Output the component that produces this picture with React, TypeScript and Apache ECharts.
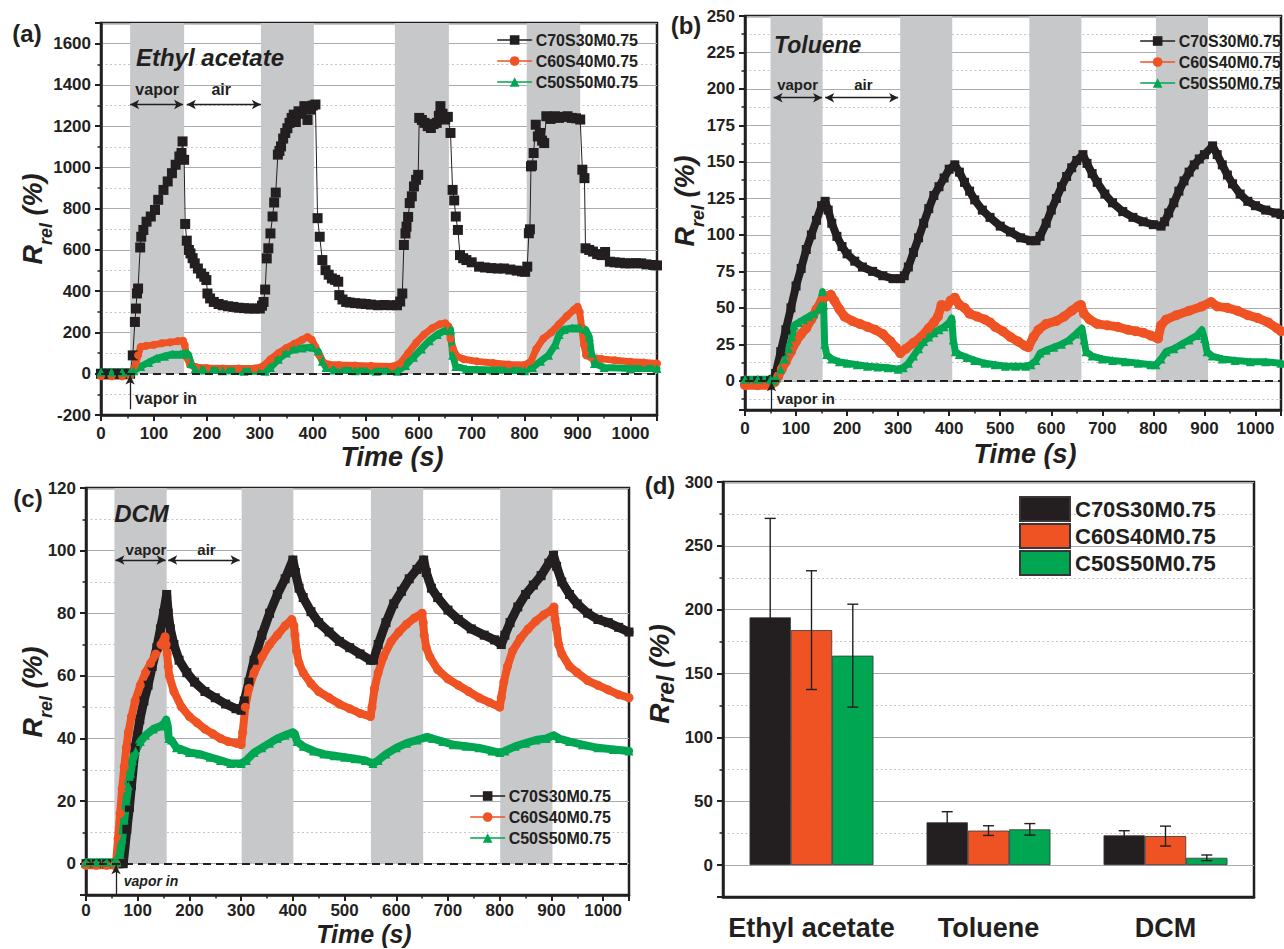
import React, { useEffect, useRef } from 'react';
import * as echarts from 'echarts';

const FONT = "'Liberation Sans', Arial, Helvetica, sans-serif";
const BLACK = '#231f20';
const RED = '#f05323';
const GREEN = '#00a651';
const BAND = '#c7c8ca';
const GRID_MAJOR = '#a9abae';
const GRID_MINOR = '#c4c5c7';

const sampleNames = ['C70S30M0.75', 'C60S40M0.75', 'C50S50M0.75'];

// ---------- (a) Ethyl acetate : [time (s), Rrel (%)] ----------
const ethylBlack: [number, number][] = [
  [0, 0], [8, 0], [16, 0], [24, 0], [32, 0], [40, 0], [48, 0], [55, 0],
  [60, 89], [64, 251], [66, 316], [68, 389], [70, 413], [74, 612], [76, 664], [80, 697], [86, 737], [94, 762], [102, 794], [108, 843], [118, 891], [126, 932], [134, 972], [141, 1013], [148, 1053], [152, 1070], [154, 1126], [157, 1037],
  [159, 726], [162, 645], [166, 600], [169, 583], [173, 560], [177, 535], [183, 510], [189, 486], [195, 470], [199, 454], [201, 389], [206, 365], [213, 348], [222, 338], [230, 332], [240, 327], [250, 324], [260, 320], [270, 318], [280, 316], [290, 316], [300, 316],
  [304, 330], [307, 348], [310, 408], [313, 559], [316, 608], [320, 680], [324, 762], [327, 830], [330, 878], [334, 1062], [337, 1080], [340, 1102], [344, 1140], [348, 1167], [352, 1190], [356, 1216], [360, 1240], [364, 1256], [368, 1220], [373, 1272], [378, 1260], [384, 1297], [390, 1230], [396, 1280], [400, 1300], [405, 1305],
  [409, 754], [413, 664], [418, 551], [424, 502], [430, 480], [436, 462], [442, 455], [448, 446], [450, 381], [456, 360], [463, 348], [470, 345], [480, 342], [491, 340], [500, 338], [510, 335], [523, 332], [535, 333], [547, 332], [559, 332], [565, 350],
  [569, 389], [572, 624], [575, 680], [577, 713], [580, 760], [583, 827], [587, 860], [591, 908], [595, 940], [599, 964], [601, 1240], [606, 1230], [611, 1216], [617, 1200], [623, 1191], [628, 1210], [634, 1216], [638, 1250], [641, 1297], [645, 1260], [650, 1232], [655, 1245], [660, 1167],
  [664, 891], [667, 840], [670, 762], [674, 697], [678, 575], [684, 560], [690, 551], [700, 540], [714, 519], [725, 515], [737, 512], [749, 510], [761, 510], [773, 505], [785, 500], [795, 496], [801, 494], [805, 519],
  [808, 681], [810, 700], [812, 1005], [814, 1010], [817, 1070], [821, 1207], [825, 1150], [829, 1167], [833, 1130], [837, 1118], [841, 1248], [849, 1235], [857, 1248], [865, 1240], [873, 1245], [881, 1248], [889, 1240], [897, 1238], [905, 1232],
  [909, 989], [913, 948], [915, 608], [922, 600], [929, 592], [937, 580], [945, 575], [952, 590], [961, 543], [970, 540], [980, 538], [990, 535], [1000, 535], [1010, 536], [1020, 535], [1030, 530], [1043, 527], [1050, 525],
];
const ethylRed: [number, number][] = [
  [0, -12], [20, -12], [40, -12], [55, -10], [60, 10], [65, 40], [70, 90], [75, 130], [85, 135], [100, 140], [115, 148], [130, 152], [145, 158], [155, 160], [158, 140], [162, 80], [168, 45], [180, 32], [200, 28], [230, 25], [260, 25], [290, 25],
  [305, 35], [320, 70], [335, 100], [350, 125], [365, 145], [380, 165], [390, 178], [398, 165], [405, 130], [412, 90], [420, 55], [430, 45], [450, 42], [480, 40], [510, 38], [550, 35],
  [565, 50], [580, 100], [595, 150], [610, 190], [625, 220], [640, 240], [650, 245], [656, 230], [660, 170], [665, 120], [672, 85], [685, 70], [710, 60], [740, 52], [770, 45], [800, 42],
  [812, 60], [822, 120], [835, 170], [850, 200], [865, 240], [880, 280], [893, 310], [900, 325], [904, 300], [908, 220], [912, 140], [916, 90], [925, 80], [945, 72], [970, 65], [1000, 58], [1025, 54], [1050, 50],
];
const ethylGreen: [number, number][] = [
  [0, 8], [20, 8], [40, 8], [55, 8], [62, 15], [75, 35], [90, 55], [105, 75], [120, 85], [135, 95], [150, 95], [160, 100], [165, 95], [170, 50], [178, 25], [195, 18], [230, 15], [270, 12], [310, 12],
  [320, 30], [335, 70], [350, 100], [365, 120], [380, 125], [400, 128], [410, 110], [418, 60], [425, 30], [440, 18], [480, 15], [520, 12], [560, 12],
  [575, 40], [590, 80], [605, 120], [620, 160], [635, 190], [650, 210], [660, 215], [664, 90], [670, 35], [690, 22], [740, 18], [800, 15],
  [815, 30], [830, 60], [845, 90], [858, 140], [865, 190], [875, 215], [890, 222], [905, 222], [915, 215], [922, 180], [926, 100], [932, 50], [950, 30], [1000, 25], [1050, 25],
];

// ---------- (b) Toluene ----------
const tolueneBlack: [number, number][] = [
  [0, 0], [25, 0], [50, 0], [55, 1], [60, 5], [70, 20], [80, 35], [90, 50], [100, 65], [110, 77], [120, 90], [130, 100], [140, 110], [150, 120], [157, 123],
  [163, 117], [170, 108], [180, 99], [190, 92], [200, 87], [215, 82], [230, 78], [250, 75], [270, 72], [290, 70], [305, 70],
  [312, 72], [320, 78], [330, 88], [340, 98], [350, 108], [360, 118], [370, 127], [380, 133], [390, 139], [400, 145], [411, 148],
  [420, 143], [430, 136], [440, 130], [450, 124], [465, 117], [480, 112], [500, 106], [520, 102], [540, 98], [560, 96], [570, 96],
  [578, 99], [590, 108], [600, 117], [610, 125], [620, 133], [630, 140], [640, 146], [650, 151], [662, 155],
  [670, 149], [680, 142], [690, 136], [705, 128], [720, 122], [740, 116], [760, 112], [780, 109], [800, 107], [815, 106],
  [822, 109], [830, 115], [840, 122], [850, 130], [860, 137], [870, 143], [880, 148], [890, 152], [900, 155], [916, 161],
  [925, 155], [935, 148], [945, 141], [955, 135], [970, 128], [985, 123], [1000, 120], [1020, 117], [1040, 115], [1050, 114],
];
const tolueneRed: [number, number][] = [
  [0, -3], [25, -3], [50, -3], [58, -1], [65, 3], [72, 8], [80, 13], [90, 20], [100, 27], [110, 32], [120, 36], [130, 42], [140, 49], [150, 55], [160, 58], [168, 59],
  [175, 55], [185, 49], [195, 44], [210, 41], [225, 39], [240, 37], [255, 35], [270, 32], [285, 27], [295, 23], [304, 19],
  [315, 22], [330, 26], [345, 30], [360, 36], [370, 40], [378, 44], [385, 52], [395, 51], [403, 55], [411, 57],
  [420, 52], [430, 50], [440, 46], [455, 44], [470, 42], [480, 40], [490, 37], [505, 34], [520, 30], [535, 27], [548, 24], [555, 23],
  [565, 30], [575, 35], [590, 39], [610, 41], [625, 44], [640, 48], [652, 51], [658, 52],
  [664, 46], [675, 42], [690, 39], [710, 38], [730, 37], [750, 35], [765, 34], [780, 33], [795, 31], [809, 29],
  [815, 38], [825, 42], [845, 45], [870, 48], [895, 51], [913, 54], [925, 51], [945, 50], [965, 48], [985, 45], [1005, 43], [1025, 40], [1042, 36], [1050, 34],
];
const tolueneGreen: [number, number][] = [
  [0, 1], [25, 1], [50, 1], [55, 0], [62, 2], [70, 8], [78, 15], [86, 22], [92, 30], [96, 38], [105, 40], [115, 42], [125, 44], [135, 46], [143, 49], [148, 52], [152, 61],
  [154, 52], [156, 25], [160, 18], [170, 15], [185, 13], [200, 12], [220, 11], [240, 10], [260, 9.5], [280, 9], [300, 8],
  [310, 9], [320, 12], [330, 17], [340, 22], [350, 27], [360, 30], [370, 33], [380, 35], [390, 37], [400, 40], [405, 43],
  [408, 28], [412, 20], [420, 18], [435, 16], [450, 14], [470, 12], [490, 11], [510, 10], [530, 10], [550, 10], [560, 11],
  [570, 14], [578, 19], [590, 21], [605, 23], [620, 25], [635, 28], [648, 32], [660, 36],
  [664, 28], [668, 20], [680, 17], [700, 15], [720, 14], [745, 13], [770, 12], [795, 11], [805, 11],
  [815, 15], [825, 20], [840, 22], [855, 25], [870, 28], [885, 31], [895, 35], [900, 29], [905, 20], [915, 17], [935, 15], [960, 14], [990, 13], [1020, 13], [1050, 12],
];

// ---------- (c) DCM ----------
const dcmBlack: [number, number][] = [
  [0, 0], [20, 0], [40, 0], [60, 0], [72, 0], [79, 11], [84, 18], [88, 25], [95, 37], [104, 46], [112, 52], [120, 57], [128, 63], [137, 69], [144, 75], [150, 80], [156, 86],
  [159, 80], [163, 75], [170, 70], [180, 65], [195, 61], [210, 58], [230, 55], [250, 53], [270, 51], [290, 49.5], [300, 49],
  [306, 52], [315, 58], [325, 65], [340, 73], [355, 80], [370, 86], [385, 91], [400, 97],
  [405, 93], [412, 88], [420, 85], [435, 80.5], [450, 77], [470, 74], [490, 71], [510, 69], [530, 67], [550, 65], [556, 65],
  [565, 70], [580, 77], [595, 83], [610, 87], [625, 91], [640, 94], [653, 97],
  [658, 93], [668, 88], [680, 85], [700, 81], [720, 78], [745, 75], [770, 73], [790, 71.5], [803, 70],
  [810, 73], [820, 77], [835, 82], [850, 86], [865, 89], [880, 92], [895, 96], [904, 98.5],
  [910, 95], [920, 90], [935, 86], [950, 83], [970, 80], [990, 78], [1010, 77], [1030, 75.5], [1050, 74],
];
const dcmRed: [number, number][] = [
  [0, -0.5], [20, -0.5], [40, -0.5], [55, -0.5], [58, 0], [62, 8], [66, 16], [70, 24], [74, 31], [78, 37], [82, 42], [88, 47], [95, 52], [105, 57], [115, 61], [125, 64], [135, 67], [145, 70], [153, 72.5],
  [155, 70], [157, 67], [159, 63], [161, 60], [170, 55], [185, 50], [200, 47], [215, 45], [230, 43], [245, 41.5], [260, 40], [275, 39], [290, 38.5], [300, 38],
  [303, 42], [308, 50], [315, 56], [325, 61], [340, 66], [355, 70], [370, 73], [385, 76], [398, 78],
  [402, 76], [404, 73], [407, 68], [412, 64], [420, 61], [435, 57.5], [450, 55], [470, 53], [490, 51], [510, 49.5], [530, 48], [550, 47],
  [553, 50], [558, 56], [565, 61], [575, 66], [590, 71], [605, 74], [620, 76.5], [635, 78.5], [650, 80],
  [652, 77], [654, 73], [658, 69], [665, 66], [680, 62], [700, 59], [720, 57], [740, 55], [760, 53], [780, 51.5], [800, 50],
  [803, 53], [808, 58], [815, 63], [825, 68], [840, 72], [855, 75], [870, 77.5], [885, 79.5], [900, 81], [905, 82],
  [907, 78], [910, 75], [914, 70], [920, 67], [935, 63], [950, 61], [970, 58.5], [990, 57], [1010, 55.5], [1030, 54], [1050, 53],
];
const dcmGreen: [number, number][] = [
  [0, 0.5], [20, 0.5], [40, 0.5], [55, 0.5], [60, 0.5], [66, 3], [70, 8], [74, 14], [78, 20], [82, 25], [86, 29], [90, 33], [96, 36], [105, 39], [115, 41], [130, 43], [145, 44], [152, 45], [155, 46],
  [158, 44], [160, 40], [165, 39.5], [175, 37], [185, 36.5], [200, 35.5], [220, 35], [240, 34], [260, 33], [280, 32], [300, 32],
  [310, 33], [325, 35.5], [340, 37], [355, 38.5], [370, 40], [385, 41], [400, 42],
  [404, 41.5], [408, 39], [420, 37.5], [440, 36], [460, 35], [480, 34.5], [500, 34], [520, 33.5], [540, 33], [555, 32],
  [565, 33], [580, 35], [600, 37], [620, 38.5], [640, 39.5], [660, 40.5],
  [670, 40], [690, 39], [710, 38], [735, 37.5], [760, 37], [785, 36], [800, 35.5],
  [810, 36], [830, 37.5], [850, 38.5], [870, 39.5], [890, 40], [905, 41],
  [915, 40], [935, 39], [960, 38], [990, 37], [1020, 36.5], [1050, 36],
];

// vapor-on intervals (s) per panel
const vaporA: [number, number][] = [[55, 157], [302, 402], [555, 657], [804, 905]];
const vaporB: [number, number][] = [[50, 152], [304, 406], [557, 659], [805, 907]];
const vaporC: [number, number][] = [[55, 156], [301, 401], [551, 652], [801, 902]];

// ---------- (d) bar chart ----------
const barCategories = ['Ethyl acetate', 'Toluene', 'DCM'];
const barBlack = [194, 33.5, 23.3];
const barRed = [184, 27, 22.7];
const barGreen = [164, 28, 5.7];
const errBlack = [77.5, 8.3, 3.6];
const errRed = [46.5, 3.8, 7.8];
const errGreen = [40.3, 4.5, 2.2];

// ---------- layout ----------
const grids = [
  { left: 101, top: 23, width: 556, height: 392 },
  { left: 745, top: 16, width: 541, height: 394 },
  { left: 86, top: 488, width: 543, height: 407 },
  { left: 723, top: 482, width: 531, height: 415 },
];

const tickLabel = { color: BLACK, fontSize: 17, fontWeight: 'bold' as const, fontFamily: FONT };

function timeAxis(gi: number, margin: number) {
  return {
    type: 'value', gridIndex: gi, min: 0, max: 1050, interval: 100,
    axisLine: { show: true, onZero: false, lineStyle: { color: BLACK, width: 2.5 } },
    axisTick: { show: true, inside: false, length: 6, lineStyle: { color: BLACK, width: 2 } },
    minorTick: { show: true, splitNumber: 2, length: 3.5, lineStyle: { color: BLACK, width: 1.5 } },
    axisLabel: { ...tickLabel, margin, formatter: (v: number) => (v % 100 === 0 ? String(v) : '') },
    splitLine: { show: false }, minorSplitLine: { show: false },
  };
}

function valueAxis(gi: number, min: number, max: number, step: number) {
  const fixed = min % step === 0 ? { interval: step } : { minInterval: step, maxInterval: step, splitNumber: Math.round((max - min) / step) };
  return {
    type: 'value', gridIndex: gi, min, max, ...fixed,
    axisLine: { show: true, onZero: false, lineStyle: { color: BLACK, width: 2.5 } },
    axisTick: { show: true, inside: false, length: 6, lineStyle: { color: BLACK, width: 2 } },
    minorTick: { show: true, splitNumber: 2, length: 3.5, lineStyle: { color: BLACK, width: 1.5 } },
    axisLabel: { ...tickLabel, margin: 10, formatter: (v: number) => (Math.abs(v % step) < 1e-9 ? String(v) : '') },
    splitLine: { show: true, lineStyle: { color: GRID_MAJOR, width: 1 } },
    minorSplitLine: { show: true, lineStyle: { color: GRID_MINOR, width: 1, type: [2, 2.5] } },
  };
}

function bandArea(bands: [number, number][], top: number) {
  return {
    silent: true,
    itemStyle: { color: BAND, opacity: 1 },
    label: { show: false },
    data: bands.map(([s, e]) => [{ xAxis: s, yAxis: 0 }, { xAxis: e, yAxis: top }]),
  };
}

function arrowLines(y: number, vap: [number, number], air: [number, number], vin: [number, number, number]) {
  return {
    silent: true,
    symbol: 'none',
    label: { show: false },
    lineStyle: { color: BLACK, width: 1.3, type: 'solid', opacity: 1 },
    emphasis: { disabled: true },
    data: [
      { yAxis: 0, lineStyle: { type: [8, 5], width: 2, color: BLACK } },
      [{ coord: [vap[0], y], symbol: 'arrow', symbolSize: [7, 9] }, { coord: [vap[1], y], symbol: 'arrow', symbolSize: [7, 9] }],
      [{ coord: [air[0], y], symbol: 'arrow', symbolSize: [7, 9] }, { coord: [air[1], y], symbol: 'arrow', symbolSize: [7, 9] }],
      [{ coord: [vin[0], vin[1]], symbol: 'none' }, { coord: [vin[0], vin[2]], symbol: 'arrow', symbolSize: [7, 9] }],
    ],
  };
}

function lineSeries(prefix: string, k: number, data: [number, number][], gi: number, width: number, size: number, extra: any = {}) {
  const colors = [BLACK, RED, GREEN];
  const symbols = ['rect', 'circle', 'triangle'];
  return {
    type: 'line', name: prefix + ':' + sampleNames[k], data, xAxisIndex: gi, yAxisIndex: gi,
    symbol: symbols[k], symbolSize: size, showSymbol: true,
    lineStyle: { color: colors[k], width, join: 'round', cap: 'round' },
    itemStyle: { color: colors[k] },
    emphasis: { disabled: true }, silent: true,
    ...extra,
  };
}

function lineLegend(prefix: string, left: number, top: number) {
  return {
    orient: 'vertical', left, top, itemGap: 5, itemWidth: 34, itemHeight: 12,
    selectedMode: false,
    data: sampleNames.map((n) => prefix + ':' + n),
    formatter: (n: string) => n.slice(2),
    textStyle: { color: BLACK, fontSize: 16, fontWeight: 'bold', fontFamily: FONT, padding: [0, 0, 0, -1] },
    lineStyle: { width: 1.3 },
  };
}

function buildOption() {
  const errRows: number[][] = [];
  [[barBlack, errBlack], [barRed, errRed], [barGreen, errGreen]].forEach(([vals, errs], k) => {
    vals.forEach((v, ci) => errRows.push([ci, v, errs[ci], k]));
  });
  const barColors = [BLACK, RED, GREEN];
  const bars = [barBlack, barRed, barGreen].map((vals, k) => ({
    type: 'bar', name: 'd:' + sampleNames[k], data: vals, xAxisIndex: 3, yAxisIndex: 3,
    barGap: '0%', barCategoryGap: '30%',
    itemStyle: { color: barColors[k], borderColor: '#3a3536', borderWidth: 0.8 },
    emphasis: { disabled: true }, silent: true,
  }));

  return {
    animation: false,
    backgroundColor: '#ffffff',
    textStyle: { fontFamily: FONT },
    grid: grids.map((g) => ({ ...g, show: true, borderColor: BLACK, borderWidth: 2.5, backgroundColor: 'transparent', containLabel: false })),
    xAxis: [
      timeAxis(0, 10), timeAxis(1, 10), timeAxis(2, 7),
      {
        type: 'category', gridIndex: 3, data: barCategories,
        axisLine: { show: true, onZero: false, lineStyle: { color: BLACK, width: 2.5 } },
        axisTick: { show: false },
        axisLabel: { color: BLACK, fontSize: 27, fontWeight: 'bold', fontFamily: FONT, margin: 17, interval: 0, hideOverlap: false },
        splitLine: { show: false },
      },
    ],
    yAxis: [
      valueAxis(0, -200, 1700, 200),
      valueAxis(1, -20, 250, 25),
      valueAxis(2, -10, 120, 20),
      valueAxis(3, -25, 300, 50),
    ],
    legend: [
      lineLegend('a', 492, 27),
      lineLegend('b', 1135, 28),
      lineLegend('c', 465, 783),
      {
        orient: 'vertical', left: 1014, top: 491, itemGap: 1, itemWidth: 50, itemHeight: 24,
        selectedMode: false, icon: 'rect',
        data: sampleNames.map((n) => 'd:' + n),
        formatter: (n: string) => n.slice(2),
        textStyle: { color: BLACK, fontSize: 22, fontWeight: 'bold', fontFamily: FONT },
      },
    ],
    series: [
      lineSeries('a', 0, ethylBlack, 0, 1, 10, { markArea: bandArea(vaporA, 1700) }),
      lineSeries('a', 1, ethylRed, 0, 7, 8),
      lineSeries('a', 2, ethylGreen, 0, 7, 9, { markLine: arrowLines(1305, [55, 155], [162, 302], [55, -172, -8]) }),
      lineSeries('b', 0, tolueneBlack, 1, 8, 9, { markArea: bandArea(vaporB, 250) }),
      lineSeries('b', 1, tolueneRed, 1, 9, 10),
      lineSeries('b', 2, tolueneGreen, 1, 7, 9, { markLine: arrowLines(194, [56, 151], [157, 300], [52, -20, -1]) }),
      lineSeries('c', 0, dcmBlack, 2, 9, 9, { markArea: bandArea(vaporC, 120) }),
      lineSeries('c', 1, dcmRed, 2, 8, 9),
      lineSeries('c', 2, dcmGreen, 2, 8, 9, { markLine: arrowLines(97, [57, 154], [159, 297], [58, -10, -0.5]) }),
      ...bars,
      {
        type: 'custom', name: 'error bars', xAxisIndex: 3, yAxisIndex: 3, data: errRows, silent: true, z: 3,
        renderItem: (params: any, api: any) => {
          const ci = api.value(0);
          const v = api.value(1);
          const e = api.value(2);
          const k = api.value(3);
          const band = api.size([1, 0])[0];
          const bw = (band * 0.7) / 3;
          const c = api.coord([ci, v]);
          const x = c[0] + (k - 1) * bw;
          const yt = api.coord([ci, v + e])[1];
          const yb = api.coord([ci, v - e])[1];
          const cap = 5.5;
          const st = { stroke: BLACK, lineWidth: 1.4 };
          return {
            type: 'group',
            children: [
              { type: 'line', shape: { x1: x, y1: yt, x2: x, y2: yb }, style: st },
              { type: 'line', shape: { x1: x - cap, y1: yt, x2: x + cap, y2: yt }, style: st },
              { type: 'line', shape: { x1: x - cap, y1: yb, x2: x + cap, y2: yb }, style: st },
            ],
          };
        },
      },
    ],
  };
}

function txt(x: number, y: number, text: string, size: number, opts: any = {}) {
  return {
    type: 'text', x, y, silent: true, z: 50,
    style: {
      text, fill: BLACK, fontSize: size, fontWeight: 'bold', fontFamily: FONT,
      fontStyle: opts.italic ? 'italic' : 'normal',
      align: opts.align || 'center', verticalAlign: 'middle',
    },
  };
}

function yTitle(x: number, y: number, main: number, sub: number, drop: number) {
  const base = { fontWeight: 'bold', fontStyle: 'italic', fontFamily: FONT, fill: BLACK };
  return {
    type: 'text', x, y, rotation: Math.PI / 2, silent: true, z: 50,
    style: {
      text: '{m|R}{s|rel}{m| (%)}',
      align: 'center', verticalAlign: 'middle',
      rich: {
        m: { ...base, fontSize: main, lineHeight: main + drop, verticalAlign: 'top' },
        s: { ...base, fontSize: sub, lineHeight: sub, verticalAlign: 'bottom' },
      },
    },
  };
}

function buildGraphics(chart: any) {
  const P = (g: number, t: number, v: number) => chart.convertToPixel({ xAxisIndex: g, yAxisIndex: g }, [t, v]);
  const at = (g: number, t: number, v: number, text: string, size: number, opts: any = {}) => {
    const p = P(g, t, v);
    return txt(p[0], p[1], text, size, opts);
  };
  return [
    txt(27, 33, '(a)', 24), txt(686, 25, '(b)', 24), txt(28, 498, '(c)', 24), txt(660, 485, '(d)', 24),
    yTitle(37, 219, 27, 18, 8), yTitle(689, 201, 27, 18, 8), yTitle(37, 692, 27, 18, 8), yTitle(661, 674, 28, 23, 4),
    txt(392, 457, 'Time (s)', 27, { italic: true }),
    txt(1025, 454, 'Time (s)', 27, { italic: true }),
    txt(364, 934, 'Time (s)', 25, { italic: true }),
    at(0, 66, 1532, 'Ethyl acetate', 24, { italic: true, align: 'left' }),
    at(0, 106, 1376, 'vapor', 16), at(0, 227, 1376, 'air', 16),
    at(0, 64, -122, 'vapor in', 16, { align: 'left' }),
    at(1, 57, 230, 'Toluene', 23, { italic: true, align: 'left' }),
    at(1, 103, 203, 'vapor', 15), at(1, 232, 203, 'air', 15),
    at(1, 62, -12, 'vapor in', 15, { align: 'left' }),
    at(2, 54.5, 112, 'DCM', 24, { italic: true, align: 'left' }),
    at(2, 116, 100.5, 'vapor', 15), at(2, 233, 100.5, 'air', 15),
    at(2, 73, -5.5, 'vapor in', 14, { italic: true, align: 'left' }),
  ];
}

export default function App() {
  const ref = useRef<HTMLDivElement>(null);
  useEffect(() => {
    document.body.style.margin = '0';
    const chart = echarts.init(ref.current as HTMLDivElement, null, { renderer: 'svg', width: 1284, height: 949 });
    chart.setOption(buildOption() as any);
    chart.setOption({ graphic: buildGraphics(chart) } as any);
    return () => chart.dispose();
  }, []);
  return <div ref={ref} style={{ width: 1284, height: 949 }} />;
}
